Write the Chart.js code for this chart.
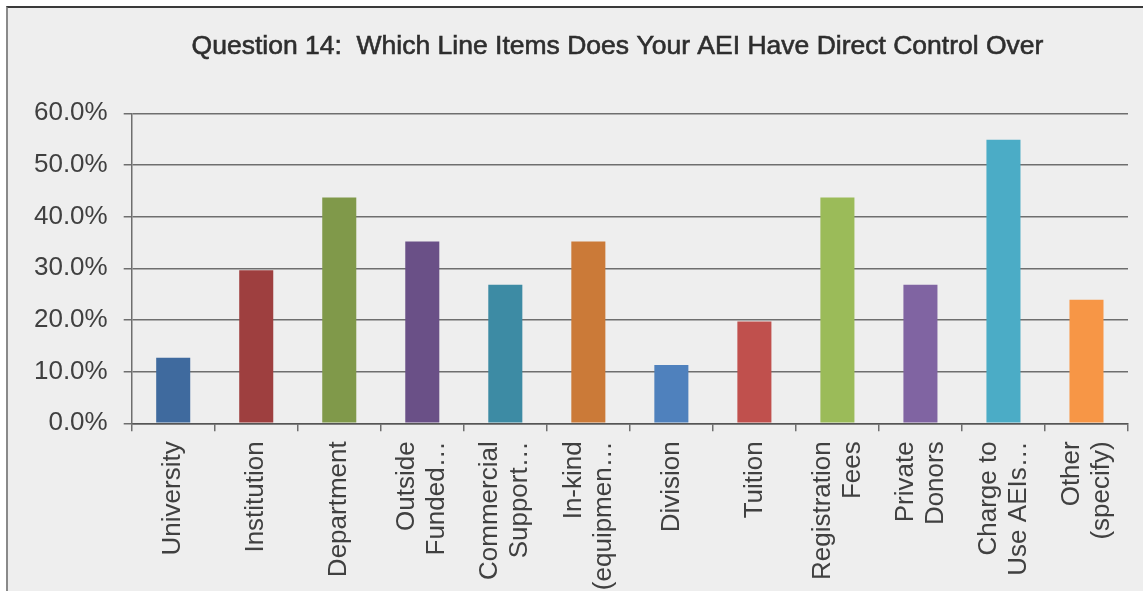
<!DOCTYPE html>
<html>
<head>
<meta charset="utf-8">
<script src="https://cdn.jsdelivr.net/npm/chart.js@4"></script>
<style>
  html, body { margin: 0; padding: 0; background: #ffffff; width: 1143px; height: 591px; overflow: hidden; }
  #frame { position: absolute; left: 6px; top: 6px; width: 1137px; height: 585px; background: #eeeeee;
           border-top: 2px solid #3a3a3a; border-left: 2px solid #8a8a8a; box-sizing: border-box; }
  #wrap { position: absolute; left: 0; top: 0; width: 1143px; height: 591px; }
</style>
</head>
<body>
<div id="frame"></div>
<div id="wrap"><canvas id="c" width="1143" height="591"></canvas></div>
<script>
const titleText = 'Question 14:  Which Line Items Does Your AEI Have Direct Control Over';
const categories = [
  ['University'],
  ['Institution'],
  ['Department'],
  ['Outside', 'Funded…'],
  ['Commercial', 'Support…'],
  ['In-kind', '(equipmen…'],
  ['Division'],
  ['Tuition'],
  ['Registration', 'Fees'],
  ['Private', 'Donors'],
  ['Charge to', 'Use AEIs…'],
  ['Other', '(specify)']
];
const percentValues = [12.7, 29.6, 43.7, 35.2, 26.8, 35.2, 11.3, 19.7, 43.7, 26.8, 54.9, 23.9];
const barColors = ['#3f6a9e', '#9e3f3f', '#80994a', '#6a5087', '#3d8ba4', '#cb7a38',
                   '#4f81bd', '#c0504d', '#9bbb59', '#8064a2', '#4bacc6', '#f79646'];
const yMin = 0, yMax = 60, yStep = 10;

const textColor = '#404040';
const FONT = "'Liberation Sans', Arial, sans-serif";

const textPlugin = {
  id: 'texts',
  afterDraw(chart) {
    const ctx = chart.ctx;
    const xs = chart.scales.x;
    // title
    ctx.save();
    ctx.font = '26.5px ' + FONT;
    ctx.fillStyle = '#2e2e2e';
    ctx.strokeStyle = '#2e2e2e';
    ctx.lineWidth = 0.6;
    ctx.textAlign = 'center';
    ctx.textBaseline = 'middle';
    ctx.fillText(titleText, 617.5, 47);
    ctx.strokeText(titleText, 617.5, 47);
    ctx.restore();
    // x labels
    const yTop = chart.chartArea.bottom + 18;
    const lh = 30;
    ctx.save();
    ctx.font = '26px ' + FONT;
    ctx.fillStyle = textColor;
    ctx.textAlign = 'right';
    ctx.textBaseline = 'middle';
    categories.forEach((lines, i) => {
      const cx = xs.getPixelForValue(i);
      const n = lines.length;
      lines.forEach((t, j) => {
        const x = cx + (j - (n - 1) / 2) * lh;
        ctx.save();
        ctx.translate(x, yTop);
        ctx.rotate(-Math.PI / 2);
        ctx.fillText(t, 0, 0);
        ctx.restore();
      });
    });
    ctx.restore();
  }
};

new Chart(document.getElementById('c'), {
  type: 'bar',
  data: {
    labels: categories.map(l => l.join(' ')),
    datasets: [{
      data: percentValues,
      backgroundColor: barColors,
      borderWidth: 0,
      barPercentage: 0.41,
      categoryPercentage: 1.0
    }]
  },
  options: {
    responsive: false,
    animation: false,
    devicePixelRatio: 1,
    layout: { padding: { left: 0, right: 15, top: 113.3, bottom: 0 } },
    plugins: {
      legend: { display: false },
      tooltip: { enabled: false },
      title: { display: false }
    },
    scales: {
      x: {
        offset: true,
        grid: { display: true, drawOnChartArea: false, drawTicks: true, tickLength: 8, color: '#6e6e6e', lineWidth: 1.5, offset: true },
        border: { display: true, color: '#555555', width: 1.5 },
        ticks: { display: false },
        afterFit(scale) { scale.height = 167.7; }
      },
      y: {
        min: yMin, max: yMax,
        grid: { color: '#6e6e6e', lineWidth: 1.5, tickLength: 8, drawTicks: true },
        border: { display: true, color: '#6e6e6e', width: 1.5 },
        ticks: {
          stepSize: yStep,
          padding: 16,
          color: textColor,
          font: { family: FONT, size: 26 },
          callback: v => v.toFixed(1) + '%'
        },
        afterFit(scale) { scale.width = 131.7; }
      }
    }
  },
  plugins: [textPlugin]
});
</script>
</body>
</html>
